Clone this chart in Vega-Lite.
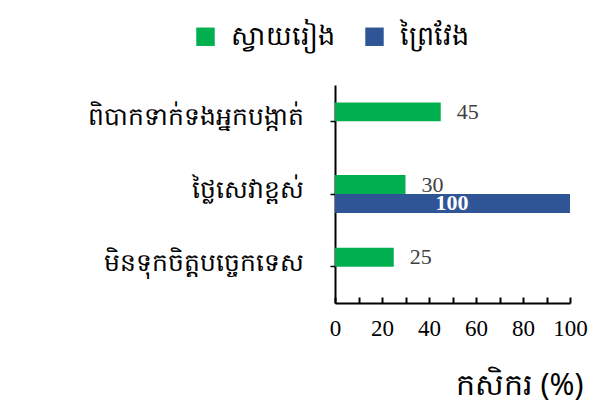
{
  "$schema": "https://vega.github.io/schema/vega-lite/v6.json",
  "autosize": "none",
  "width": 235,
  "height": 218,
  "padding": {"left": 335, "top": 85, "right": 42, "bottom": 102},
  "background": "white",
  "data": {
    "values": [
      {"cat": "ពិបាកទាក់ទងអ្នកបង្កាត់", "series": "ស្វាយរៀង", "value": 45},
      {"cat": "ថ្លៃសេវាខ្ពស់", "series": "ស្វាយរៀង", "value": 30},
      {"cat": "ថ្លៃសេវាខ្ពស់", "series": "ព្រៃវែង", "value": 100},
      {"cat": "មិនទុកចិត្តបច្ចេកទេស", "series": "ស្វាយរៀង", "value": 25}
    ]
  },
  "encoding": {
    "y": {
      "field": "cat", "type": "nominal",
      "sort": ["ពិបាកទាក់ទងអ្នកបង្កាត់", "ថ្លៃសេវាខ្ពស់", "មិនទុកចិត្តបច្ចេកទេស"],
      "scale": {"paddingInner": 0.48, "paddingOuter": 0.24},
      "axis": {
        "title": null, "labelFontSize": 25, "labelColor": "black",
        "labelPadding": 27, "tickSize": 5, "tickColor": "black", "domainColor": "black",
        "labelFont": "Noto Sans", "labelLimit": 400, "labelOffset": -4
      }
    },
    "yOffset": {
      "field": "series", "type": "nominal",
      "scale": {"domain": ["ស្វាយរៀង", "ព្រៃវែង"], "paddingInner": 0, "paddingOuter": 0}
    },
    "x": {
      "field": "value", "type": "quantitative",
      "scale": {"domain": [0, 100], "nice": false},
      "axis": {
        "title": "កសិករ (%)", "titleFontSize": 30, "titleFontWeight": "normal", "titleColor": "black",
        "titleFont": "Noto Sans",
        "titleAnchor": "end", "titleAlign": "right", "titleX": 248, "titleY": 82, "titleBaseline": "middle",
        "values": [0, 10, 20, 30, 40, 50, 60, 70, 80, 90, 100],
        "labelExpr": "datum.value % 20 == 0 ? datum.label : ''",
        "labelFont": "Liberation Serif", "labelFontSize": 23, "labelColor": "black",
        "tickSize": -6, "labelPadding": 20, "tickColor": "black", "domainColor": "black", "domainWidth": 2, "tickWidth": 2,
        "grid": false, "labelFlush": false
      }
    }
  },
  "layer": [
    {
      "mark": {"type": "bar"},
      "encoding": {
        "color": {
          "field": "series", "type": "nominal",
          "scale": {"domain": ["ស្វាយរៀង", "ព្រៃវែង"], "range": ["#00b050", "#2f5597"]},
          "legend": {
            "title": null, "orient": "none", "direction": "horizontal",
            "legendX": -143, "legendY": -62,
            "symbolType": "square", "symbolSize": 340, "symbolStrokeWidth": 0,
            "labelFontSize": 27, "labelFont": "Noto Sans", "labelColor": "black",
            "columnPadding": 26, "labelOffset": 12, "labelLimit": 300
          }
        }
      }
    },
    {
      "transform": [{"filter": "datum.series == 'ស្វាយរៀង'"}],
      "mark": {"type": "text", "align": "left", "dx": 16, "font": "Liberation Serif", "fontSize": 22, "color": "#404040"},
      "encoding": {"text": {"field": "value", "type": "quantitative"}}
    },
    {
      "transform": [{"filter": "datum.series == 'ព្រៃវែង'"}],
      "mark": {"type": "text", "align": "center", "dx": -118, "font": "Liberation Serif", "fontSize": 22, "fontWeight": "bold", "color": "white"},
      "encoding": {"text": {"field": "value", "type": "quantitative"}}
    }
  ],
  "config": {"view": {"stroke": null}, "axis": {"domainWidth": 2, "tickWidth": 1.5}}
}
